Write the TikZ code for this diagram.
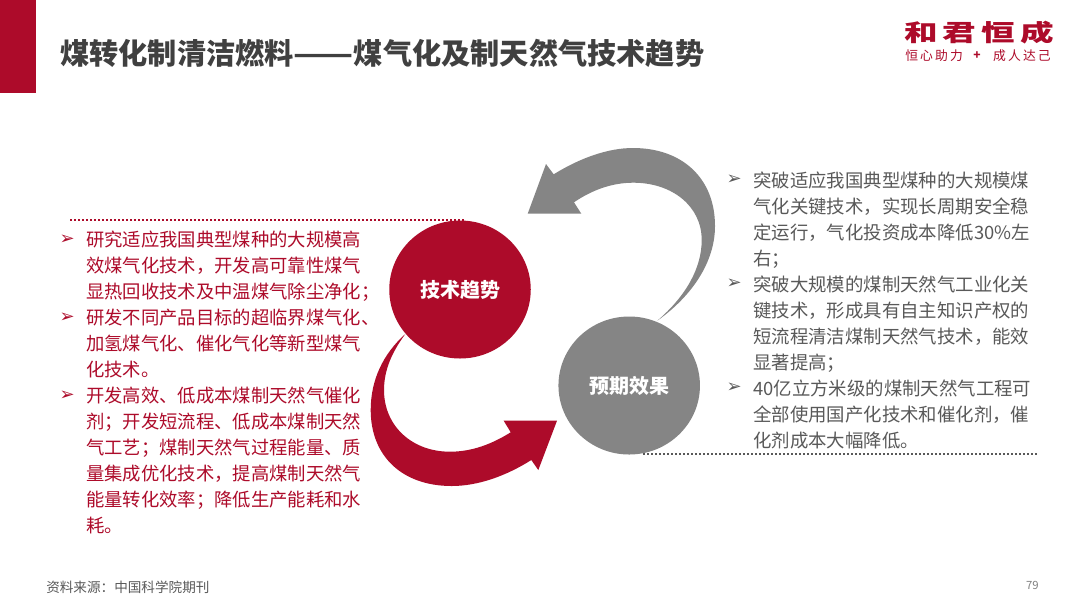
\documentclass[tikz,border=0pt]{standalone}
\usepackage{fontspec}
\usetikzlibrary{shapes.geometric}
\setmainfont{Noto Sans CJK SC}
\newfontfamily\bulletfont{DejaVu Sans}
\newfontfamily\logofont[LetterSpace=15,BoldFont={Noto Sans CJK SC Black}]{Noto Sans CJK SC}
\definecolor{brandred}{HTML}{AD0B2A}
\definecolor{arrowgray}{HTML}{858585}
\definecolor{bodygray}{HTML}{595959}
\definecolor{titlegray}{HTML}{404040}
\newcommand{\tip}{{\bulletfont\char"27A2}}

\begin{document}
\begin{tikzpicture}[x=0.75pt,y=-0.75pt]
                        \tikzstyle{topic}=[ellipse,minimum width=141.5*0.75pt,minimum height=138*0.75pt,inner sep=0pt,text=white,font=\fontsize{15}{18}\selectfont\bfseries]
                        \tikzstyle{lefttext}=[anchor=north west,align=left,inner sep=0pt,text=brandred,font=\fontsize{13.75}{19.5}\selectfont]
                        \tikzstyle{righttext}=[anchor=north west,align=left,inner sep=0pt,text=bodygray,font=\fontsize{13.8}{19.5}\selectfont]
                        \tikzstyle{lefttip}=[anchor=east,inner sep=0pt,text=brandred,font=\fontsize{13.5}{15}\selectfont]
                        \tikzstyle{righttip}=[anchor=east,inner sep=0pt,text=bodygray,font=\fontsize{13.5}{15}\selectfont]
                        \useasboundingbox (0,0) rectangle (1080,608);
                        \fill[white] (0,0) rectangle (1080,608);
                        \fill[brandred] (0,0) rectangle (36,93);
                        \node[anchor=west,inner sep=0pt,text=titlegray,font=\fontsize{21.9}{24}\selectfont\bfseries] (title) at (60,53) {煤转化制清洁燃料\scalebox{1.2}[1]{——}煤气化及制天然气技术趋势};
                        % logo
                        \node[anchor=west,inner sep=0pt,text=brandred,font=\logofont\fontsize{17.5}{22}\selectfont\bfseries] (logo) at (904,33) {\scalebox{1.44}[1]{和君恒成}};
                        \node[anchor=west,inner sep=0pt,text=brandred,font=\fontsize{9.6}{12}\selectfont] (motto) at (905,56) {恒\,心\,助\,力};
                        \node[inner sep=0pt,text=brandred,font=\fontsize{9}{12}\selectfont\bfseries] (plus) at (977,56) {+};
                        \node[anchor=east,inner sep=0pt,text=brandred,font=\fontsize{9.6}{12}\selectfont] (promise) at (1051,56) {成\,人\,达\,己};
                        % arrows
                        \fill[arrowgray] (527.7,213.7) -- (546,164) -- (553.7,174.3)
                            .. controls (580,158) and (608,148) .. (633,148)
                            .. controls (682,148) and (715,178) .. (715,226)
                            .. controls (715,262) and (692,296) .. (657.3,320.7)
                            .. controls (686,296) and (701.7,268) .. (701.7,240)
                            .. controls (701.7,206) and (672,182.7) .. (633.3,182.7)
                            .. controls (612,182.7) and (592,190) .. (574,202.3)
                            -- (581.3,213.7) -- cycle;
                        \fill[brandred] (557,420.7) -- (538.3,470) -- (531.3,460)
                            .. controls (506,476) and (478,486) .. (451.7,486)
                            .. controls (402,486) and (370.7,456) .. (370.7,410)
                            .. controls (370.7,380) and (383,354) .. (405.3,334)
                            .. controls (392,352) and (384,370) .. (384,390)
                            .. controls (384,426) and (412,451.7) .. (450,451.7)
                            .. controls (472,451.7) and (492,444) .. (510.7,432.3)
                            -- (503.7,420.7) -- cycle;
                        \node[topic,fill=brandred] (trend) at (460,289.5) {技术趋势};
                        \node[topic,fill=arrowgray] (effect) at (629.2,385.5) {预期效果};
                        % dotted rules
                        \coordinate (ruleA) at (70,219.5);
                        \coordinate (ruleB) at (465,219.5);
                        \coordinate (ruleC) at (643,454);
                        \coordinate (ruleD) at (1037,454);
                        \draw[brandred,line width=1.5pt,dash pattern=on 1.5pt off 1.5pt] (ruleA) -- (ruleB);
                        \draw[bodygray,line width=1.5pt,dash pattern=on 1.5pt off 1.5pt] (ruleC) -- (ruleD);
                        % left column
                        \node[lefttext] (leftA) at (86,231) {研究适应我国典型煤种的大规模高\\效煤气化技术，开发高可靠性煤气\\显热回收技术及中温煤气除尘净化；};
                        \node[lefttext] (leftB) at (86,309) {研发不同产品目标的超临界煤气化、\\加氢煤气化、催化气化等新型煤气\\化技术。};
                        \node[lefttext] (leftC) at (86,387) {开发高效、低成本煤制天然气催化\\剂；开发短流程、低成本煤制天然\\气工艺；煤制天然气过程能量、质\\量集成优化技术，提高煤制天然气\\能量转化效率；降低生产能耗和水\\耗。};
                        \node[lefttip] (tipA) at (75,240) {\tip};
                        \node[lefttip] (tipB) at (75,318) {\tip};
                        \node[lefttip] (tipC) at (75,396) {\tip};
                        % right column
                        \node[righttext] (rightA) at (753,171.5) {突破适应我国典型煤种的大规模煤\\气化关键技术，实现长周期安全稳\\定运行，气化投资成本降低30\%左\\右；};
                        \node[righttext] (rightB) at (753,275.5) {突破大规模的煤制天然气工业化关\\键技术，形成具有自主知识产权的\\短流程清洁煤制天然气技术，能效\\显著提高；};
                        \node[righttext] (rightC) at (753,379.5) {40亿立方米级的煤制天然气工程可\\全部使用国产化技术和催化剂，催\\化剂成本大幅降低。};
                        \node[righttip] (tipD) at (742,180) {\tip};
                        \node[righttip] (tipE) at (742,284) {\tip};
                        \node[righttip] (tipF) at (742,388) {\tip};
                        % footer
                        \node[anchor=west,inner sep=0pt,text=bodygray,font=\fontsize{10.2}{12}\selectfont] (source) at (46,587) {资料来源：中国科学院期刊};
                        \node[anchor=east,inner sep=0pt,text=gray,font=\fontsize{8.5}{10}\selectfont] (page) at (1039,585) {79};
                    \end{tikzpicture}
\end{document}
